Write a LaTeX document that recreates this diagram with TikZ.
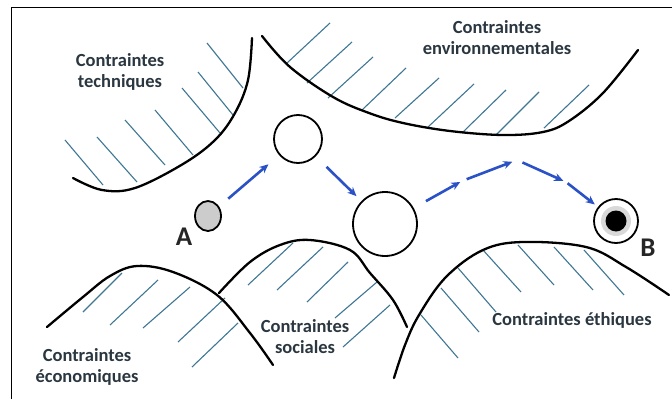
\documentclass[tikz,border=0pt]{standalone}
\usepackage{fontspec}
\setmainfont{Carlito}
\usetikzlibrary{arrows.meta,shapes.geometric}

\definecolor{flowblue}{RGB}{42,82,198}
\definecolor{hatchblue}{RGB}{62,118,148}
\definecolor{labelgray}{RGB}{42,54,64}

\tikzset{
  boundary/.style={line width=2.3pt, line cap=round},
  hatch/.style={hatchblue, line width=1.1pt},
  flow/.style={flowblue, line width=2.6pt, -{Stealth[length=9pt,width=8pt]}},
  lbl/.style={text=labelgray, align=center, font=\fontsize{18.5}{21}\selectfont\bfseries},
  letter/.style={text=black!85, font=\fontsize{27}{30}\selectfont\bfseries},
  stage/.style={circle, draw, line width=1.8pt, fill=white}
}

\begin{document}
\begin{tikzpicture}[x=1pt, y=-1pt]
    \useasboundingbox (0,0) rectangle (672,399);
    \draw[line width=1.2pt] (11.5,399) -- (11.5,7.5) -- (672,7.5);

    % hatching
    \foreach \xa/\ya/\xb/\yb in {65/140/103/185, 97/137/137/182, 125/120/165/165, 155/110/193/155,
        182/88/220/133, 198/72/233/115, 207/43/243/88}
        \draw[hatch] (\xa,\ya) -- (\xb,\yb);
    \foreach \xa/\ya/\xb/\yb in {287/63/330/23, 307/83/352/42, 328/98/373/57, 362/110/406/68,
        395/118/439/78, 428/127/474/84, 463/132/506/90, 496/135/539/92, 544/128/589/85}
        \draw[hatch] (\xa,\ya) -- (\xb,\yb);
    \foreach \xa/\ya/\xb/\yb in {83/312/122/273, 110/325/158/280, 143/328/190/287,
        178/342/225/298, 192/367/238/323}
        \draw[hatch] (\xa,\ya) -- (\xb,\yb);
    \foreach \xa/\ya/\xb/\yb in {248/285/293/243, 277/290/323/247, 307/302/348/262,
        335/318/377/282, 343/347/390/305}
        \draw[hatch] (\xa,\ya) -- (\xb,\yb);
    \foreach \xa/\ya/\xb/\yb in {421/315/458/358, 441/288/479/332, 458/268/496/312,
        483/250/521/292, 518/245/554/285, 554/247/593/290, 584/250/624/295}
        \draw[hatch] (\xa,\ya) -- (\xb,\yb);

    % constraint boundaries
    \draw[boundary] plot[smooth, tension=0.6] coordinates {(73,178) (102,190) (135,188) (183,164)
        (215,140) (235,113) (248,80) (252,38)};
    \draw[boundary] plot[smooth, tension=0.6] coordinates {(262,36) (290,67) (333,97) (369,113)
        (403,123) (450,131) (503,135) (543,132) (569,121) (603,93) (638,50)};
    \draw[boundary] plot[smooth, tension=0.6] coordinates {(47,327) (83,297) (110,276) (137,266)
        (173,272) (217,295) (250,333) (273,365)};
    \draw[boundary] plot[smooth, tension=0.6] coordinates {(219,293) (250,262) (280,245) (310,240)
        (350,250) (370,273) (393,300) (407,327)};
    \draw[boundary] plot[smooth, tension=0.6] coordinates {(394,378) (405,345) (419,315) (446,277)
        (483,250) (523,242) (586,247) (626,267) (669,295)};

    % labels
    \node[lbl] (techlbl) at (120,72) {Contraintes\\techniques};
    \node[lbl] (envlbl) at (497,38) {Contraintes\\environnementales};
    \node[lbl] (ecolbl) at (87,367) {Contraintes\\économiques};
    \node[lbl] (soclbl) at (305,337) {Contraintes\\sociales};
    \node[lbl] (ethlbl) at (572,320) {Contraintes éthiques};

    % stages
    \node[ellipse, draw, line width=1.8pt, fill=gray!40, minimum width=26pt, minimum height=30pt] (start) at (208,216) {};
    \node[stage, minimum size=48pt] (mid1) at (298,139) {};
    \node[stage, minimum size=64pt] (mid2) at (385,224) {};
    \node[stage, minimum size=44pt] (goal) at (616,221) {};
    \node[circle, fill=gray!30, minimum size=30pt] (goalring) at (goal) {};
    \node[circle, fill=black, minimum size=21pt] (goaldot) at (goal) {};
    \node[letter] (albl) at (184,237) {A};
    \node[letter] (blbl) at (648,248) {B};

    \coordinate (w1) at (462,181);
    \coordinate (w2) at (517,160);
    \coordinate (w3) at (566,182);

    % path
    \draw[flow, shorten <=12pt, shorten >=14pt] (start) -- (mid1);
    \draw[flow, shorten <=15pt, shorten >=7pt] (mid1) -- (mid2);
    \draw[flow, shorten <=14pt, shorten >=2pt] (mid2) -- (w1);
    \draw[flow, shorten <=5pt, shorten >=5pt] (w1) -- (w2);
    \draw[flow, shorten <=6pt, shorten >=3pt] (w2) -- (w3);
    \draw[flow, shorten <=2pt, shorten >=4pt] (w3) -- (goal);
\end{tikzpicture}
\end{document}
